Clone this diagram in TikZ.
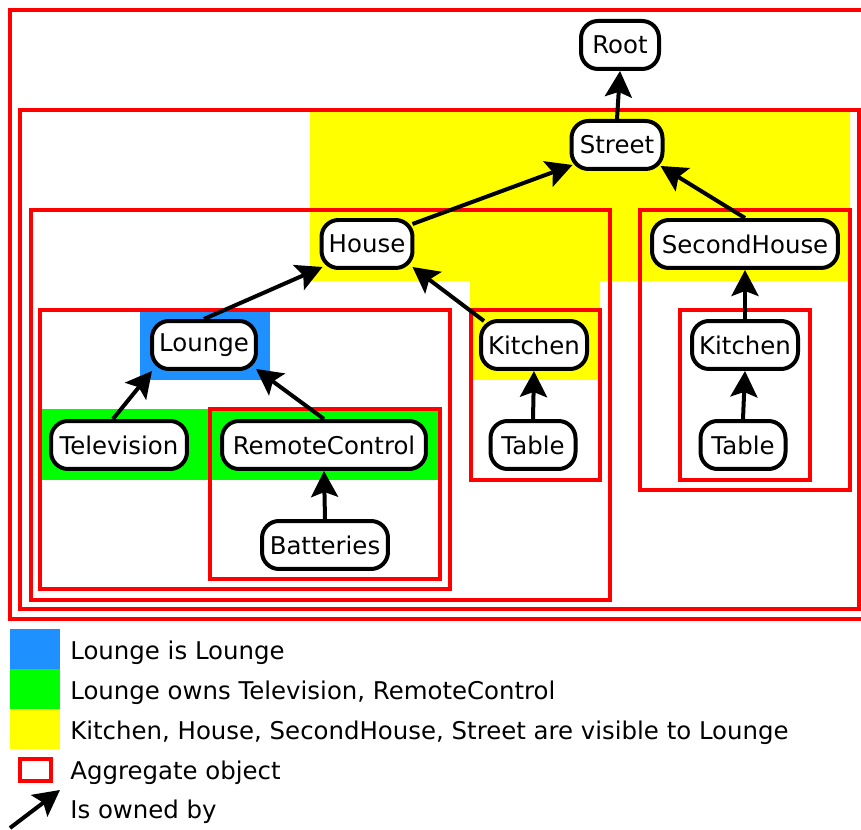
\documentclass[tikz,border=0pt]{standalone}
\usepackage{fontspec}
\setmainfont{DejaVu Sans}
\usetikzlibrary{arrows.meta,calc}
\definecolor{lounge}{RGB}{30,144,255}
\definecolor{owns}{RGB}{0,255,0}
\definecolor{visible}{RGB}{255,255,0}
\definecolor{aggr}{RGB}{255,0,0}
\begin{document}
\begin{tikzpicture}[x=0.02cm, y=-0.02cm,
	  font=\fontsize{13.9}{16}\selectfont,
	  obj/.style={draw, line width=0.08cm, rounded corners=0.34cm, fill=white, minimum height=0.96cm, inner sep=0pt},
	  aggregate/.style={draw=aggr, line width=0.08cm},
	  owned/.style={line width=0.08cm, -{Stealth[length=0.52cm, width=0.54cm, inset=0.1cm]}},
	  legend/.style={anchor=base west, inner sep=0pt}]
	  \useasboundingbox (0,0) rectangle (861,830);
	  \clip (0,0) rectangle (861,830);

	  \fill [ visible ] (310,112) -- (850,112) -- (850,281) -- (600,281) -- (600,380) -- (470,380) -- (470,281) -- (310,281) -- cycle;
	  \fill [ lounge ] (140,312) rectangle (270,380);
	  \fill [ owns ] (40,409) rectangle (440,480);

	  \draw [ aggregate ] (10,10) rectangle (880,619);
	  \draw [ aggregate ] (20,110) rectangle (859,609);
	  \draw [ aggregate ] (31,210) rectangle (610,600);
	  \draw [ aggregate ] (40,310) rectangle (450,589);
	  \draw [ aggregate ] (210,409) rectangle (440,579);
	  \draw [ aggregate ] (471,310) rectangle (600,480);
	  \draw [ aggregate ] (640,210) rectangle (850,490);
	  \draw [ aggregate ] (680,310) rectangle (810,480);

	  \node [ obj, minimum width=1.56cm ] (root) at (620,45) {Root};
	  \node [ obj, minimum width=1.82cm ] (street) at (617,145) {Street};
	  \node [ obj, minimum width=1.82cm ] (house) at (367,244) {House};
	  \node [ obj, minimum width=3.72cm ] (second) at (745,244) {SecondHouse};
	  \node [ obj, minimum width=2.08cm ] (lounge) at (204,345) {Lounge};
	  \node [ obj, minimum width=2.12cm ] (kitchen) at (534,345) {Kitchen};
	  \node [ obj, minimum width=2.12cm ] (kitchen2) at (745,345) {Kitchen};
	  \node [ obj, minimum width=2.72cm ] (tv) at (119,445) {Television};
	  \node [ obj, minimum width=4.08cm ] (remote) at (324,445) {RemoteControl};
	  \node [ obj, minimum width=1.70cm ] (table) at (533,445) {Table};
	  \node [ obj, minimum width=1.70cm ] (table2) at (743,445) {Table};
	  \node [ obj, minimum width=2.52cm ] (batteries) at (325,545) {Batteries};

	  \draw [ owned ] (street.north) -- (root.south);
	  \draw [ owned ] ($(house.north east)+(-2,6)$) -- ($(street.south west)+(3,-6)$);
	  \draw [ owned ] (second.north) -- ($(street.south east)+(-4,-5)$);
	  \draw [ owned ] (lounge.north) -- ($(house.south west)+(3,-3)$);
	  \draw [ owned ] ($(kitchen.north west)+(5,2)$) -- ($(house.south east)+(-2,-3)$);
	  \draw [ owned ] (kitchen2.north) -- (second.south);
	  \draw [ owned ] ($(tv.north)+(-6,0)$) -- ($(lounge.south west)+(2,0)$);
	  \draw [ owned ] (remote.north) -- ($(lounge.south east)+(-2,-2)$);
	  \draw [ owned ] (table.north) -- (kitchen.south);
	  \draw [ owned ] (table2.north) -- (kitchen2.south);
	  \draw [ owned ] (batteries.north) -- (remote.south);

	  \fill [ lounge ] (10,629) rectangle (60,669);
	  \fill [ owns ] (10,669) rectangle (60,709);
	  \fill [ visible ] (10,709) rectangle (60,749);
	  \draw [ aggregate, line width=0.065cm ] (20,759) rectangle (51,781);
	  \coordinate (tail) at (10,828);
	  \coordinate (tip) at (60,790);
	  \draw [ owned ] (tail) -- (tip);

	  \node [ legend ] (is) at (70,659) {Lounge is Lounge};
	  \node [ legend ] (owner) at (70,699) {Lounge owns Television, RemoteControl};
	  \node [ legend ] (vis) at (70,739) {Kitchen, House, SecondHouse, Street are visible to Lounge};
	  \node [ legend ] (agg) at (70,779) {Aggregate object};
	  \node [ legend ] (own) at (70,818) {Is owned by};
	\end{tikzpicture}
\end{document}
